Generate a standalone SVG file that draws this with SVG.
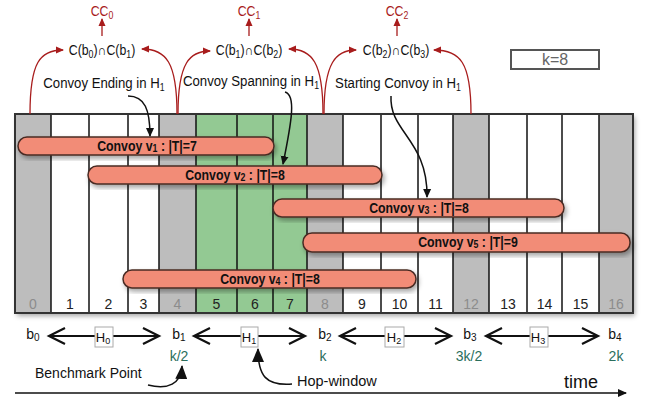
<svg xmlns="http://www.w3.org/2000/svg" width="646" height="405" viewBox="0 0 646 405">
<defs>
<style>
text{font-family:"Liberation Sans",Arial,sans-serif;}
.sx{transform-box:fill-box;transform-origin:center;transform:scaleX(0.88);}
.red{stroke:#a81c1c;fill:none;stroke-width:1.3;}
.redt{fill:#a81c1c;font-size:14px;text-anchor:middle;}
.ann{font-size:15px;fill:#111;text-anchor:middle;}
.ci{font-size:14px;fill:#111;text-anchor:middle;}
.cv{fill:#f28c77;stroke:#4a2b24;stroke-width:1.5;}
.cvt{font-size:14px;font-weight:bold;fill:#111;text-anchor:middle;}
.num{font-size:14px;text-anchor:middle;fill:#222;}
.numg{fill:#8c8c8c;}
.gray{fill:#bdbdbd;}
.white{fill:#fff;}
.green{fill:#93c993;}
.vl{stroke:#111;stroke-width:1.5;}
.blk{stroke:#111;fill:none;stroke-width:1.5;}
.dbl{stroke:#111;fill:none;stroke-width:2.2;}
.b{font-size:14px;fill:#111;text-anchor:middle;}
.teal{font-size:14px;fill:#2b6e5c;text-anchor:middle;}
.hb{fill:#fff;stroke:#aaa;stroke-width:1;}
.ht{font-size:13px;fill:#111;text-anchor:middle;}
</style>
<filter id="sh" x="-10%" y="-20%" width="120%" height="150%">
<feDropShadow dx="2" dy="3" stdDeviation="2.5" flood-color="#000" flood-opacity="0.35"/>
</filter>
<marker id="ar" markerWidth="8" markerHeight="8" refX="7" refY="4" orient="auto" markerUnits="userSpaceOnUse"><path d="M0,0.5 L8,4 L0,7.5 z" fill="#a81c1c"/></marker>
<marker id="ab" markerWidth="9" markerHeight="9" refX="8" refY="4.5" orient="auto" markerUnits="userSpaceOnUse"><path d="M0,0.5 L9,4.5 L0,8.5 z" fill="#111"/></marker>
<marker id="abig" markerWidth="14" markerHeight="12" refX="13" refY="6" orient="auto" markerUnits="userSpaceOnUse"><path d="M0,0 L14,6 L0,12 z" fill="#111"/></marker>
</defs>

<!-- grid -->
<g id="grid">
<rect x="15" y="114" width="618" height="199" fill="#fff" filter="url(#sh)"/>
<rect class="gray" x="15" y="114" width="36" height="199"/>
<rect class="white" x="51" y="114" width="38" height="199"/>
<rect class="white" x="89" y="114" width="39" height="199"/>
<rect class="white" x="128" y="114" width="31" height="199"/>
<rect class="gray" x="159" y="114" width="37" height="199"/>
<rect class="green" x="196" y="114" width="41" height="199"/>
<rect class="green" x="237" y="114" width="36" height="199"/>
<rect class="green" x="273" y="114" width="34" height="199"/>
<rect class="gray" x="307" y="114" width="36" height="199"/>
<rect class="white" x="343" y="114" width="38" height="199"/>
<rect class="white" x="381" y="114" width="37" height="199"/>
<rect class="white" x="418" y="114" width="35" height="199"/>
<rect class="gray" x="453" y="114" width="36" height="199"/>
<rect class="white" x="489" y="114" width="38" height="199"/>
<rect class="white" x="527" y="114" width="35" height="199"/>
<rect class="white" x="562" y="114" width="37" height="199"/>
<rect class="gray" x="599" y="114" width="34" height="199"/>
<g class="vl">
<line x1="51" y1="114" x2="51" y2="313"/><line x1="89" y1="114" x2="89" y2="313"/>
<line x1="128" y1="114" x2="128" y2="313"/><line x1="159" y1="114" x2="159" y2="313"/>
<line x1="196" y1="114" x2="196" y2="313"/><line x1="237" y1="114" x2="237" y2="313"/>
<line x1="273" y1="114" x2="273" y2="313"/><line x1="307" y1="114" x2="307" y2="313"/>
<line x1="343" y1="114" x2="343" y2="313"/><line x1="381" y1="114" x2="381" y2="313"/>
<line x1="418" y1="114" x2="418" y2="313"/><line x1="453" y1="114" x2="453" y2="313"/>
<line x1="489" y1="114" x2="489" y2="313"/><line x1="527" y1="114" x2="527" y2="313"/>
<line x1="562" y1="114" x2="562" y2="313"/><line x1="599" y1="114" x2="599" y2="313"/>
</g>
<rect x="15" y="114" width="618" height="199" fill="none" stroke="#333" stroke-width="2"/>
<g class="num">
<text class="numg" x="33" y="309">0</text><text x="70" y="309">1</text><text x="108.5" y="309">2</text>
<text x="143.5" y="309">3</text><text class="numg" x="177.5" y="309">4</text><text x="216.5" y="309">5</text>
<text x="255" y="309">6</text><text x="290" y="309">7</text><text class="numg" x="325" y="309">8</text>
<text x="362" y="309">9</text><text x="399.5" y="309">10</text><text x="435.5" y="309">11</text>
<text class="numg" x="471" y="309">12</text><text x="508" y="309">13</text><text x="544.5" y="309">14</text>
<text x="580.5" y="309">15</text><text class="numg" x="616" y="309">16</text>
</g>
</g>

<!-- convoys -->
<g id="v1"><rect class="cv" x="18" y="137" width="256" height="18" rx="9" filter="url(#sh)"/><text class="cvt sx" x="147" y="151">Convoy v<tspan font-size="10" dy="1">1</tspan><tspan dy="-1"> : |T|=7</tspan></text></g>
<g id="v2"><rect class="cv" x="88" y="166" width="294" height="18" rx="9" filter="url(#sh)"/><text class="cvt sx" x="235" y="180">Convoy v<tspan font-size="10" dy="1">2</tspan><tspan dy="-1"> : |T|=8</tspan></text></g>
<g id="v3"><rect class="cv" x="273" y="199" width="291" height="18" rx="9" filter="url(#sh)"/><text class="cvt sx" x="419" y="213">Convoy v<tspan font-size="10" dy="1">3</tspan><tspan dy="-1"> : |T|=8</tspan></text></g>
<g id="v5"><rect class="cv" x="303" y="233" width="327" height="19" rx="9" filter="url(#sh)"/><text class="cvt sx" x="468" y="247">Convoy v<tspan font-size="10" dy="1">5</tspan><tspan dy="-1"> : |T|=9</tspan></text></g>
<g id="v4"><rect class="cv" x="123" y="270" width="293" height="18" rx="9" filter="url(#sh)"/><text class="cvt sx" x="270" y="284">Convoy v<tspan font-size="10" dy="1">4</tspan><tspan dy="-1"> : |T|=8</tspan></text></g>

<!-- top labels -->
<g id="cc0"><text class="redt sx" x="102" y="16">CC<tspan font-size="10" dy="3">0</tspan></text></g>
<g id="cc1"><text class="redt sx" x="249" y="16">CC<tspan font-size="10" dy="3">1</tspan></text></g>
<g id="cc2"><text class="redt sx" x="397" y="16">CC<tspan font-size="10" dy="3">2</tspan></text></g>
<g id="i0"><text class="ci sx" x="102" y="55">C(b<tspan font-size="10" dy="3">0</tspan><tspan dy="-3">)∩C(b</tspan><tspan font-size="10" dy="3">1</tspan><tspan dy="-3">)</tspan></text></g>
<g id="i1"><text class="ci sx" x="249" y="55">C(b<tspan font-size="10" dy="3">1</tspan><tspan dy="-3">)∩C(b</tspan><tspan font-size="10" dy="3">2</tspan><tspan dy="-3">)</tspan></text></g>
<g id="i2"><text class="ci sx" x="396" y="55">C(b<tspan font-size="10" dy="3">2</tspan><tspan dy="-3">)∩C(b</tspan><tspan font-size="10" dy="3">3</tspan><tspan dy="-3">)</tspan></text></g>
<g id="a1"><text class="ann sx" x="104" y="88">Convoy Ending in H<tspan font-size="10" dy="3">1</tspan></text></g>
<g id="a2"><text class="ann sx" x="251" y="86">Convoy Spanning in H<tspan font-size="10" dy="3">1</tspan></text></g>
<g id="a3"><text class="ann sx" x="398" y="88">Starting Convoy in H<tspan font-size="10" dy="3">1</tspan></text></g>
<g id="kbox"><rect x="511" y="50" width="88" height="19" fill="#fff" stroke="#555" stroke-width="2"/><text x="555" y="65" font-size="16" fill="#666" text-anchor="middle">k=8</text></g>

<!-- bottom -->
<g id="b0"><text class="b" x="33" y="339">b<tspan font-size="10" dy="2">0</tspan></text></g>
<g id="b1"><text class="b" x="179" y="339">b<tspan font-size="10" dy="2">1</tspan></text><text class="teal" x="179" y="361">k/2</text></g>
<g id="b2"><text class="b" x="325" y="339">b<tspan font-size="10" dy="2">2</tspan></text><text class="teal" x="323" y="361">k</text></g>
<g id="b3"><text class="b" x="470" y="339">b<tspan font-size="10" dy="2">3</tspan></text><text class="teal" x="469" y="361">3k/2</text></g>
<g id="b4"><text class="b" x="615" y="339">b<tspan font-size="10" dy="2">4</tspan></text><text class="teal" x="616" y="361">2k</text></g>
<g id="bench"><text x="35" y="378" font-size="14" fill="#111">Benchmark Point</text></g>
<g id="hop"><text x="297" y="386" font-size="14.5" fill="#111">Hop-window</text></g>
<g id="time"><text x="564" y="388" font-size="18" fill="#111">time</text></g>

<g id="connectors">
<!-- red -->
<path class="red" d="M30 114 C30 62 40 50 63 50" marker-end="url(#ar)"/>
<path class="red" d="M177 114 C177 62 166 49 142 49" marker-end="url(#ar)"/>
<path class="red" d="M178 114 C178 62 190 51 210 51" marker-end="url(#ar)"/>
<path class="red" d="M323 114 C323 62 312 49 289 49" marker-end="url(#ar)"/>
<path class="red" d="M324 114 C324 62 336 50 356 50" marker-end="url(#ar)"/>
<path class="red" d="M471 114 C471 62 460 50 434 50" marker-end="url(#ar)"/>
<path class="red" d="M102 36 L102 19" marker-end="url(#ar)"/>
<path class="red" d="M249 36 L249 19" marker-end="url(#ar)"/>
<path class="red" d="M397 36 L397 19" marker-end="url(#ar)"/>
<!-- black -->
<path class="blk" d="M128 96 C145 96 150 110 150 136" marker-end="url(#ab)"/>
<path class="blk" d="M285 92 C296 95 292 120 283 164" marker-end="url(#ab)"/>
<path class="blk" d="M391 96 C389 132 428 140 427 197" marker-end="url(#ab)"/>
<!-- hop arrows -->
<path class="dbl" d="M49 336 L159 336 M65 328 L49 336 L65 344 M143 328 L159 336 L143 344"/>
<path class="dbl" d="M194 336 L305 336 M210 328 L194 336 L210 344 M289 328 L305 336 L289 344"/>
<path class="dbl" d="M340 336 L451 336 M356 328 L340 336 L356 344 M435 328 L451 336 L435 344"/>
<path class="dbl" d="M486 336 L598 336 M502 328 L486 336 L502 344 M582 328 L598 336 L582 344"/>
<rect class="hb" x="95" y="327" width="18" height="20"/><text class="ht" x="103" y="342">H<tspan font-size="9" dy="2">0</tspan></text>
<rect class="hb" x="241" y="327" width="17" height="20"/><text class="ht" x="249" y="342">H<tspan font-size="9" dy="2">1</tspan></text>
<rect class="hb" x="385" y="327" width="19" height="20"/><text class="ht" x="394" y="342">H<tspan font-size="9" dy="2">2</tspan></text>
<rect class="hb" x="530" y="327" width="18" height="20"/><text class="ht" x="538" y="342">H<tspan font-size="9" dy="2">3</tspan></text>
<path class="blk" stroke-width="1.8" d="M148 385 C168 390 181 384 182 366" marker-end="url(#abig)"/>
<path class="blk" stroke-width="1.8" d="M292 384 C266 386 258 376 258 349" marker-end="url(#abig)"/>
<path class="blk" d="M15 393 L626 393" marker-end="url(#ab)"/>
</g>
</svg>
